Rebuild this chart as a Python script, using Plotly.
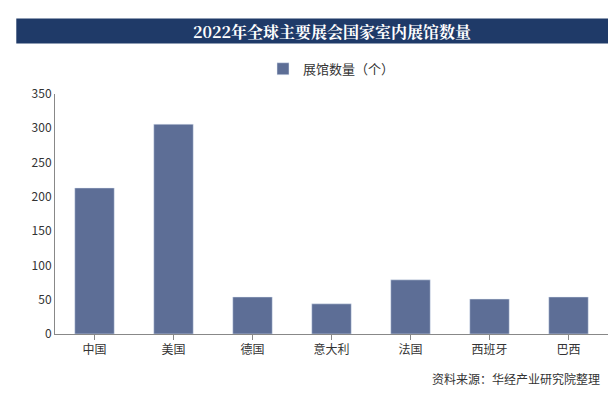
import plotly.graph_objects as go

categories = ["中国", "美国", "德国", "意大利", "法国", "西班牙", "巴西"]
values = [213, 306, 54, 44, 79, 51, 54]
series_name = "展馆数量（个）"
title = "2022年全球主要展会国家室内展馆数量"

fig = go.Figure(go.Bar(x=categories, y=values, name=series_name,
                       marker_color="#5d6e96", width=0.5, showlegend=True))
fig.update_layout(
    width=616, height=405, margin=dict(l=47, r=16, t=86, b=79),
    paper_bgcolor="white", plot_bgcolor="white",
    font=dict(family="Noto Sans CJK SC", size=12, color="#333"),
    legend=dict(orientation="h", x=0.5, xanchor="center", y=1.105, yanchor="middle",
                font=dict(size=13)),
    shapes=[dict(type="rect", xref="paper", yref="paper", x0=-0.07, x1=1.0,
                 y0=1.21, y1=1.315, fillcolor="#1f3a68", line_width=0, layer="below")],
    annotations=[dict(text="<b>" + title + "</b>", xref="paper", yref="paper",
                      x=0.5, y=1.262, yanchor="middle", showarrow=False,
                      font=dict(family="Noto Serif CJK SC, Noto Sans CJK SC", size=16, color="white")),
                 dict(text="资料来源：华经产业研究院整理", xref="paper", yref="paper",
                      x=0.99, y=-0.185, xanchor="right", yanchor="middle", showarrow=False,
                      font=dict(size=12, color="#333"))],
)
fig.update_yaxes(range=[0, 350], dtick=50, showgrid=False, showline=True,
                 linecolor="#888", ticks="", zeroline=False)
fig.update_xaxes(showline=True, linecolor="#888", ticks="outside", tickcolor="#888")
fig.write_html("out.html")
